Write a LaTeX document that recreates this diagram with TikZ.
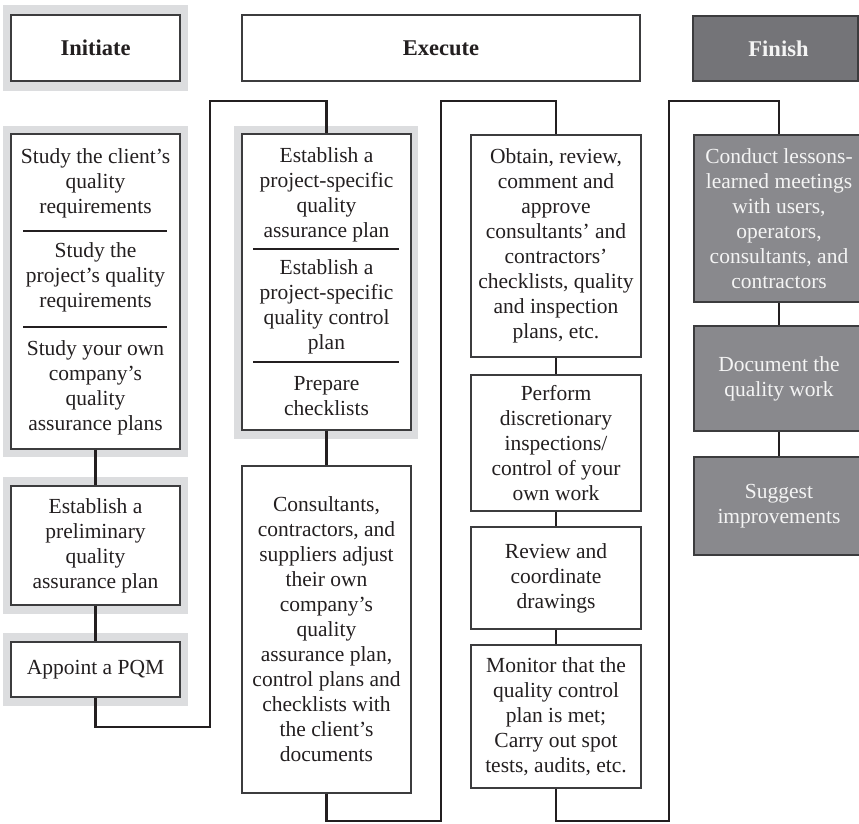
\documentclass[tikz,border=0pt]{standalone}
\usepackage{fontspec}
\setmainfont{Liberation Serif}
\definecolor{bandgray}{HTML}{DCDDDF}
\definecolor{boxline}{HTML}{3C3C3E}
\definecolor{ink}{HTML}{231F20}
\definecolor{finishfill}{HTML}{747478}
\definecolor{darkfill}{HTML}{89898D}
\definecolor{paletext}{HTML}{F4F4F4}
\begin{document}
\begin{tikzpicture}[x=1pt,y=-1pt,
  band/.style={fill=bandgray, draw=none, inner sep=0pt},
  wbox/.style={draw=boxline, line width=1.3pt, fill=white, inner sep=0pt},
  dbox/.style={draw=boxline, line width=1.3pt, fill=darkfill, inner sep=0pt},
  txt/.style={align=center, font=\fontsize{21.5}{25}\selectfont, text=ink, inner sep=0pt},
  wtxt/.style={txt, text=paletext},
  hdr/.style={font=\bfseries\fontsize{22.5}{25}\selectfont},
  conn/.style={draw=ink, line width=2.6pt},
  sepline/.style={draw=ink, line width=1.2pt}]
\useasboundingbox (0,0) rectangle (859,823);
\clip (0,0) rectangle (859,823);
\fill[white] (0,0) rectangle (859,823);

% headers
\node[band, minimum width=185pt, minimum height=86pt] (hband) at (95.5,48) {};
\node[wbox, minimum width=169pt, minimum height=66pt, txt, hdr] (hinit) at (95.5,48) {Initiate};
\node[wbox, minimum width=398pt, minimum height=66pt, txt, hdr] (hexec) at (441,48) {Execute};
\node[wbox, fill=finishfill, minimum width=165pt, minimum height=65pt] (hfin) at (775.5,48.5) {};
\node[txt, hdr, text=paletext] (hfint) at (778.5,48.5) {Finish};

% column 1
\node[band, minimum width=185pt, minimum height=331pt] (bandA) at (95.5,291.5) {};
\node[wbox, minimum width=169pt, minimum height=315pt] (A) at (95.5,291.5) {};
\node[band, minimum width=185pt, minimum height=137pt] (bandB) at (95.5,545.5) {};
\node[wbox, minimum width=169pt, minimum height=119pt] (B) at (95.5,545.5) {};
\node[band, minimum width=185pt, minimum height=73pt] (bandC) at (95.5,669.5) {};
\node[wbox, minimum width=169pt, minimum height=55pt] (C) at (95.5,669.5) {};
\node[txt] (A1) at (95.5,183) {Study the client’s\\quality\\requirements};
\node[txt] (A2) at (95.5,277) {Study the\\project’s quality\\requirements};
\node[txt] (A3) at (95.5,387.5) {Study your own\\company’s\\quality\\assurance plans};
\coordinate (sA1l) at (23,231); \coordinate (sA1r) at (167,231);
\coordinate (sA2l) at (23,327); \coordinate (sA2r) at (167,327);
\draw[sepline] (sA1l) -- (sA1r);
\draw[sepline] (sA2l) -- (sA2r);
\node[txt] (B1) at (95.5,545.5) {Establish a\\preliminary\\quality\\assurance plan};
\node[txt] (C1) at (95.5,670) {Appoint a PQM};

% column 2
\node[band, minimum width=184pt, minimum height=313pt] (bandD) at (326,282.5) {};
\node[wbox, minimum width=169pt, minimum height=296pt] (D) at (326.5,282) {};
\node[txt] (D1) at (326.5,195) {Establish a\\project-specific\\quality\\assurance plan};
\node[txt] (D2) at (326.5,307) {Establish a\\project-specific\\quality control\\plan};
\node[txt] (D3) at (326.5,396) {Prepare\\checklists};
\coordinate (sD1l) at (253,249); \coordinate (sD1r) at (399,249);
\coordinate (sD2l) at (253,362); \coordinate (sD2r) at (399,362);
\draw[sepline] (sD1l) -- (sD1r);
\draw[sepline] (sD2l) -- (sD2r);
\node[wbox, minimum width=169pt, minimum height=327pt, txt] (E) at (326.5,629.5) {Consultants,\\contractors, and\\suppliers adjust\\their own\\company’s\\quality\\assurance plan,\\control plans and\\checklists with\\the client’s\\documents};

% column 3
\node[wbox, minimum width=170pt, minimum height=222pt, txt] (F) at (556,246) {Obtain, review,\\comment and\\approve\\consultants’ and\\contractors’\\checklists, quality\\and inspection\\plans, etc.};
\node[wbox, minimum width=170pt, minimum height=136pt, txt] (G) at (556,443) {Perform\\discretionary\\inspections/\\control of your\\own work};
\node[wbox, minimum width=170pt, minimum height=102pt, txt] (H) at (556,578) {Review and\\coordinate\\drawings};
\node[wbox, minimum width=170pt, minimum height=143pt, txt] (I) at (556,716.5) {Monitor that the\\quality control\\plan is met;\\Carry out spot\\tests, audits, etc.};

% column 4
\node[dbox, minimum width=170pt, minimum height=167pt, wtxt] (J) at (779,218.5) {Conduct lessons-\\learned meetings\\with users,\\operators,\\consultants, and\\contractors};
\node[dbox, minimum width=170pt, minimum height=105pt, wtxt] (K) at (779,378.5) {Document the\\quality work};
\node[dbox, minimum width=170pt, minimum height=98pt, wtxt] (L) at (779,506) {Suggest\\improvements};

% connectors
\draw[conn] (A.south) -- (B.north);
\draw[conn] (B.south) -- (C.north);
\draw[conn] (D.south) -- (E.north);
\draw[conn] (F.south) -- (G.north);
\draw[conn] (G.south) -- (H.north);
\draw[conn] (H.south) -- (I.north);
\draw[conn] (J.south) -- (K.north);
\draw[conn] (K.south) -- (L.north);

\coordinate (l1b) at (210,727);
\coordinate (l1c) at (210,101);
\coordinate (l2b) at (441,821);
\coordinate (l2c) at (441,101);
\coordinate (l3b) at (669,821);
\coordinate (l3c) at (669,101);
\draw[conn, line join=miter] (C.south) |- (l1b) -- (l1c) -| (D.north);
\draw[conn, line join=miter] (E.south) |- (l2b) -- (l2c) -| (F.north);
\draw[conn, line join=miter] (I.south) |- (l3b) -- (l3c) -| (J.north);
\end{tikzpicture}
\end{document}
